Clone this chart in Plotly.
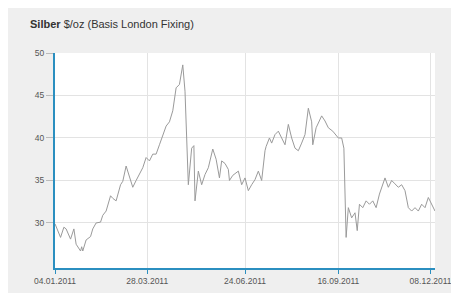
import plotly.graph_objects as go

dates = [
    "2011-01-04", "2011-01-09", "2011-01-12", "2011-01-14", "2011-01-18", "2011-01-21", "2011-01-23",
    "2011-01-27", "2011-01-28", "2011-01-29", "2011-02-01", "2011-02-05", "2011-02-07", "2011-02-10",
    "2011-02-14", "2011-02-16", "2011-02-19", "2011-02-23", "2011-02-25", "2011-02-28", "2011-03-04",
    "2011-03-06", "2011-03-09", "2011-03-12", "2011-03-15", "2011-03-18", "2011-03-21", "2011-03-24",
    "2011-03-27", "2011-03-30", "2011-04-02", "2011-04-05", "2011-04-08", "2011-04-11", "2011-04-14",
    "2011-04-17", "2011-04-20", "2011-04-23", "2011-04-26", "2011-04-29", "2011-05-01", "2011-05-04",
    "2011-05-07", "2011-05-09", "2011-05-10", "2011-05-13", "2011-05-16", "2011-05-19", "2011-05-22",
    "2011-05-26", "2011-05-29", "2011-06-01", "2011-06-03", "2011-06-06", "2011-06-09", "2011-06-10",
    "2011-06-13", "2011-06-18", "2011-06-21", "2011-06-24", "2011-06-27", "2011-06-30", "2011-07-03",
    "2011-07-06", "2011-07-09", "2011-07-12", "2011-07-13", "2011-07-16", "2011-07-18", "2011-07-21",
    "2011-07-24", "2011-07-27", "2011-07-30", "2011-08-02", "2011-08-05", "2011-08-08", "2011-08-11",
    "2011-08-14", "2011-08-17", "2011-08-20", "2011-08-23", "2011-08-24", "2011-08-27", "2011-09-01",
    "2011-09-04", "2011-09-07", "2011-09-11", "2011-09-16", "2011-09-19", "2011-09-21", "2011-09-23",
    "2011-09-25", "2011-09-28", "2011-10-01", "2011-10-03", "2011-10-05", "2011-10-08", "2011-10-11",
    "2011-10-14", "2011-10-17", "2011-10-20", "2011-10-23", "2011-10-28", "2011-10-31", "2011-11-03",
    "2011-11-06", "2011-11-09", "2011-11-12", "2011-11-15", "2011-11-18", "2011-11-21", "2011-11-24",
    "2011-11-27", "2011-11-30", "2011-12-03", "2011-12-06", "2011-12-09", "2011-12-12",
]

prices = [
    29.9, 28.3, 29.5, 29.3, 28.1, 29.3, 27.5,
    26.7, 27.2, 26.7, 28.0, 28.4, 29.3, 30.0,
    30.1, 30.9, 31.4, 33.2, 32.9, 32.6, 34.5,
    34.9, 36.7, 35.3, 34.2, 35.0, 35.7, 36.5,
    37.7, 37.3, 38.1, 38.1, 39.2, 40.4, 41.4,
    41.9, 43.2, 45.9, 46.3, 48.6, 45.5, 34.5,
    38.8, 39.1, 32.6, 36.1, 34.5, 35.7, 36.5,
    38.7, 37.5, 35.3, 37.3, 37.0, 36.3, 35.0,
    35.6, 36.1, 34.5, 35.3, 33.8, 34.5, 35.1,
    36.1, 35.0, 38.5, 39.0, 40.0, 39.4, 40.4,
    40.8, 40.0, 39.2, 41.6, 40.0, 38.8, 38.5,
    39.4, 40.4, 43.5, 41.9, 39.2, 41.2, 42.6,
    42.0, 41.2, 40.8, 40.0, 40.0, 38.8, 28.3,
    31.8, 30.6, 31.2, 29.1, 32.2, 31.8, 32.6,
    32.2, 32.6, 31.8, 33.4, 35.3, 34.2, 35.0,
    34.6, 34.2, 34.5, 33.8, 31.8, 31.4, 31.8,
    31.4, 32.2, 31.8, 33.0, 32.2, 31.4,
]

x_tick_vals = ["2011-01-04", "2011-03-28", "2011-06-24", "2011-09-16", "2011-12-08"]
x_tick_text = ["04.01.2011", "28.03.2011", "24.06.2011", "16.09.2011", "08.12.2011"]
y_tick_vals = [30, 35, 40, 45, 50]

AXIS_BLUE = "#2b8fc0"

fig = go.Figure()
fig.add_trace(go.Scatter(
    x=dates, y=prices, mode="lines",
    line=dict(color="#9a9a9a", width=1),
    hoverinfo="skip", showlegend=False,
))

fig.update_layout(
    width=459, height=293,
    margin=dict(l=47, r=32, t=45, b=33),
    paper_bgcolor="#efefef",
    plot_bgcolor="#ffffff",
    font=dict(family="Liberation Sans, Arial, sans-serif", size=8, color="#555555"),
    showlegend=False,
    annotations=[dict(
        text="<b>Silber</b> $/oz (Basis London Fixing)",
        xref="paper", yref="paper", x=-0.07, y=1.0, yshift=21,
        xanchor="left", yanchor="bottom", showarrow=False,
        font=dict(size=11, color="#333333", family="Liberation Sans, Arial, sans-serif"),
    )],
)

fig.update_xaxes(
    type="date", range=["2011-01-04", "2011-12-12"],
    tickvals=x_tick_vals, ticktext=x_tick_text,
    showgrid=True, gridcolor="#e3e3e3", gridwidth=1,
    showline=True, linecolor=AXIS_BLUE, linewidth=2,
    ticks="outside", ticklen=4, tickcolor=AXIS_BLUE,
    tickfont=dict(size=8.5, color="#555555"),
    zeroline=False, fixedrange=True,
)
fig.update_yaxes(
    range=[24.7, 50], tickvals=y_tick_vals,
    showgrid=True, gridcolor="#e3e3e3", gridwidth=1,
    showline=True, linecolor=AXIS_BLUE, linewidth=2,
    ticks="outside", ticklen=7, tickcolor="#bbbbbb",
    tickfont=dict(size=8.5, color="#555555"),
    zeroline=False, fixedrange=True,
)

fig.write_html("out.html")
